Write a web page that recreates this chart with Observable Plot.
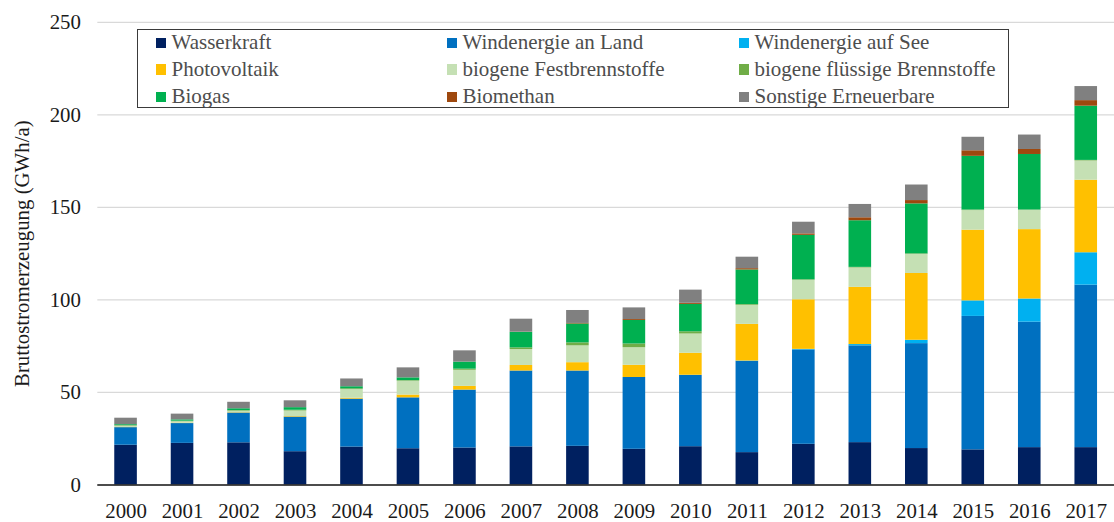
<!DOCTYPE html>
<html>
<head>
<meta charset="utf-8">
<script src="https://cdn.jsdelivr.net/npm/d3@7"></script>
<script src="https://cdn.jsdelivr.net/npm/@observablehq/plot@0.6"></script>
<style>
  html, body { margin: 0; padding: 0; background: #fff; overflow: hidden; }
  #wrap { position: relative; width: 1114px; height: 522px; overflow: hidden; }
  #chart svg, #chart svg text { font-family: "Liberation Serif", "Times New Roman", serif !important; }
  #legend { position: absolute; left: 137px; top: 29px; width: 872px; height: 79px;
    border: 1.5px solid #3a3a3a; background: #fff; box-sizing: border-box; }
  .li { position: absolute; font-family: "Liberation Serif", "Times New Roman", serif;
    font-size: 21px; color: #4d4d4d; white-space: nowrap; line-height: 1; }
  .sw { position: absolute; width: 10.5px; height: 10.5px; }
</style>
</head>
<body>
<div id="wrap"><div id="chart"></div><div id="legend"></div></div>
<script>
const years = ["2000","2001","2002","2003","2004","2005","2006","2007","2008","2009","2010","2011","2012","2013","2014","2015","2016","2017"];
const seriesNames = ["Wasserkraft","Windenergie an Land","Windenergie auf See","Photovoltaik","biogene Festbrennstoffe","biogene flüssige Brennstoffe","Biogas","Biomethan","Sonstige Erneuerbare"];
const seriesColors = ["#002060","#0070C0","#00B0F0","#FFC000","#C5E0B4","#70AD47","#00B050","#9E480E","#808080"];
const wasserkraft = [21.5,22.5,22.8,18.0,20.5,19.6,20.0,20.6,20.9,19.3,20.7,17.5,22.0,22.9,19.7,19.0,20.2,20.2];
const windLand    = [9.5,10.7,16.1,18.7,25.9,27.5,31.3,41.0,40.7,38.8,38.5,49.3,51.0,52.3,56.7,72.1,67.8,87.8];
const windSee     = [0,0,0,0,0,0,0,0,0,0,0.1,0.2,0.3,0.7,1.8,8.4,12.5,17.5];
const photovoltaik= [0.1,0.2,0.2,0.3,0.5,1.5,2.0,3.0,4.5,6.6,11.9,19.8,26.8,30.9,36.1,38.2,37.5,39.2];
const festbrenn   = [0.7,0.8,0.8,3.0,4.7,7.5,8.7,8.6,9.1,9.5,10.4,10.3,10.5,10.5,10.3,10.6,10.4,10.4];
const fluessig    = [0.3,0.3,0.3,0.4,0.4,0.3,0.6,0.9,1.6,2.0,1.2,0.4,0.3,0.3,0.3,0.3,0.2,0.3];
const biogas      = [0.5,0.7,1.0,1.4,1.1,1.5,3.8,8.4,10.2,12.7,14.8,18.7,24.0,25.2,27.0,29.0,30.0,29.3];
const biomethan   = [0,0,0,0,0,0,0,0.1,0.3,0.5,0.6,0.7,0.8,1.6,1.8,3.0,2.7,3.0];
const sonstige    = [3.5,3.1,3.5,3.7,4.2,5.4,6.1,7.0,7.0,6.3,7.1,6.2,6.3,7.2,8.4,7.3,7.8,7.6];
const yTicks = [0,50,100,150,200,250];
const yLabel = "Bruttostromerzeugung (GWh/a)";

const seriesValues = [wasserkraft, windLand, windSee, photovoltaik, festbrenn, fluessig, biogas, biomethan, sonstige];
const data = [];
seriesNames.forEach((s, si) => years.forEach((yr, i) => data.push({year: yr, series: s, value: seriesValues[si][i]})));

const font = '"Liberation Serif", "Times New Roman", serif';
const chart = Plot.plot({
  width: 1122, height: 522,
  marginLeft: 98, marginRight: 0, marginTop: 22, marginBottom: 34,
  style: {fontFamily: font, fontSize: "21px", color: "#1a1a1a", background: "#fff"},
  x: {domain: years, paddingInner: 0.6, paddingOuter: 0.3, round: false, label: null},
  y: {domain: [0, 250], label: null},
  color: {domain: seriesNames, range: seriesColors},
  marks: [
    Plot.gridY(yTicks, {stroke: "#d9d9d9", strokeOpacity: 1, strokeWidth: 1.3}),
    Plot.barY(data, {x: "year", y: "value", fill: "series", order: seriesNames}),
    Plot.ruleY([0], {stroke: "#1a1a1a", strokeWidth: 1.5}),
    Plot.axisY(yTicks, {tickSize: 0, tickPadding: 17, label: null, fontSize: 21}),
    Plot.axisX({tickSize: 0, tickPadding: 18, label: null, fontSize: 21}),
    Plot.text([yLabel], {frameAnchor: "left", textAnchor: "middle", rotate: -90, dx: -76, fontSize: 21, fill: "#1a1a1a"})
  ]
});
document.getElementById("chart").appendChild(chart);

const legend = document.getElementById("legend");
const colX = [156, 447, 739];
const rowY = [43.3, 70, 97.7];
seriesNames.forEach((s, i) => {
  const c = i % 3, r = Math.floor(i / 3);
  const sw = document.createElement("div");
  sw.className = "sw";
  sw.style.background = seriesColors[i];
  sw.style.left = (colX[c] - 137 - 1.5) + "px";
  sw.style.top = (rowY[r] - 5.25 - 29 - 1.5) + "px";
  legend.appendChild(sw);
  const t = document.createElement("div");
  t.className = "li";
  t.textContent = s;
  t.style.left = (colX[c] + 16 - 137 - 1.5) + "px";
  t.style.top = (rowY[r] - 11 - 29 - 1.5) + "px";
  legend.appendChild(t);
});
</script>
</body>
</html>
